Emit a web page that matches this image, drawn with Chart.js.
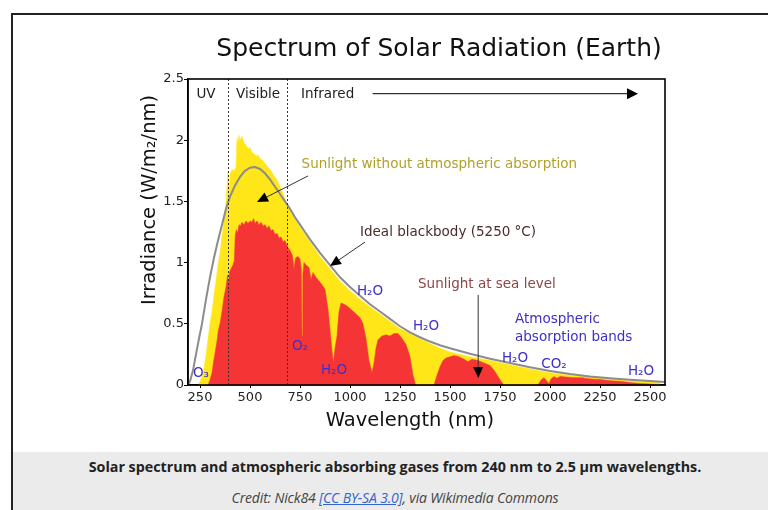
<!DOCTYPE html>
<html><head><meta charset="utf-8">
<script src="https://cdn.jsdelivr.net/npm/chart.js@4.4.1/dist/chart.umd.min.js"></script>
<style>
html,body{margin:0;padding:0;background:#fff;width:768px;height:510px;overflow:hidden;}
#frame{position:absolute;left:11px;top:13px;width:800px;height:520px;border-left:2px solid #222;border-top:2px solid #222;}
#wrap{position:absolute;left:0;top:0;width:768px;height:452px;}
#cap{position:absolute;left:13px;top:452px;width:800px;height:70px;background:#ebebeb;font-family:"Open Sans",sans-serif;}
#cap .t{position:absolute;left:0;width:764px;top:5px;text-align:center;font-weight:bold;font-size:14.3px;color:#222;}
#cap .c{position:absolute;left:0;width:764px;top:36px;text-align:center;font-style:italic;font-size:14px;letter-spacing:-0.15px;color:#444;}
#cap a{color:#3366cc;text-decoration:underline;}
</style></head>
<body>
<div id="frame"></div>
<div id="wrap"><canvas id="c" width="768" height="452"></canvas></div>
<div id="cap">
<div class="t">Solar spectrum and atmospheric absorbing gases from 240 nm to 2.5 μm wavelengths.</div>
<div class="c">Credit: Nick84 <a>[CC BY-SA 3.0]</a>, via Wikimedia Commons</div>
</div>
<script>
// ---- data ----
const blackbodyNm  = [190,200,215,230,245,260,280,300,320,340,360,380,400,425,450,475,500,525,550,575,600,625,650,675,700,725,750,775,800,850,900,950,1000,1050,1100,1150,1200,1250,1300,1350,1400,1450,1500,1600,1700,1800,1900,2000,2100,2200,2300,2400,2500,2575];
const blackbodyVal = [0.0,0.03,0.12,0.25,0.38,0.5,0.7,0.88,1.04,1.18,1.31,1.44,1.54,1.63,1.7,1.75,1.775,1.78,1.765,1.73,1.68,1.62,1.56,1.5,1.44,1.37,1.31,1.25,1.19,1.08,0.98,0.88,0.8,0.73,0.66,0.6,0.54,0.48,0.43,0.39,0.355,0.325,0.3,0.255,0.215,0.18,0.145,0.115,0.09,0.07,0.055,0.042,0.032,0.025];

const topAtmNm  = [242,250,260,270,280,290,300,310,320,330,340,350,360,370,380,385,390,395,400,410,420,430,435,440,445,450,460,470,480,490,500,510,520,530,540,550,560,570,580,590,600,620,640,660,680,700,720,750,800,850,900,950,1000,1050,1100,1150,1200,1250,1300,1350,1400,1450,1500,1600,1700,1800,1900,2000,2100,2200,2300,2400,2500,2550];
const topAtmVal = [0,0.03,0.07,0.14,0.24,0.38,0.5,0.6,0.74,0.85,0.98,1.08,1.22,1.35,1.5,1.62,1.74,1.6,1.72,1.76,1.75,1.78,2.02,1.98,2.04,2.0,2.03,1.98,1.96,1.93,1.94,1.9,1.89,1.87,1.88,1.85,1.84,1.82,1.8,1.78,1.76,1.71,1.66,1.58,1.5,1.43,1.37,1.29,1.17,1.05,0.95,0.85,0.77,0.7,0.64,0.58,0.52,0.46,0.42,0.38,0.34,0.3,0.27,0.23,0.2,0.165,0.13,0.1,0.08,0.065,0.05,0.037,0.027,0.023];

const seaLevelNm  = [290,300,310,317,325,335,342,350,360,370,380,388,393,397,405,415,422,426,432,438,445,452,460,470,480,490,500,510,518,525,535,545,555,565,575,585,595,605,615,625,635,645,655,665,675,685,688,692,700,712,720,728,740,750,756,760,764,770,780,795,805,815,830,845,860,875,890,900,910,917,925,935,945,955,970,990,1010,1030,1050,1065,1080,1095,1110,1120,1130,1140,1160,1180,1200,1220,1240,1260,1280,1300,1315,1328,1420,1435,1450,1465,1480,1500,1520,1545,1570,1590,1610,1640,1670,1700,1720,1740,1755,1770,1940,1955,1970,1985,1995,2005,2020,2035,2050,2080,2120,2160,2200,2250,2300,2350,2400,2450,2500,2540];
const seaLevelVal = [0,0.04,0.1,0.18,0.26,0.36,0.45,0.5,0.6,0.72,0.8,0.9,0.82,0.92,0.95,0.98,1.02,1.22,1.27,1.24,1.31,1.3,1.33,1.31,1.34,1.32,1.34,1.33,1.36,1.32,1.34,1.31,1.33,1.3,1.31,1.28,1.3,1.26,1.27,1.23,1.24,1.2,1.21,1.17,1.18,1.14,1.0,1.12,1.1,1.06,0.95,1.04,1.05,1.03,0.95,0.4,0.9,1.0,0.98,0.96,0.86,0.92,0.88,0.85,0.82,0.78,0.62,0.45,0.28,0.18,0.3,0.4,0.6,0.67,0.66,0.64,0.61,0.58,0.55,0.5,0.38,0.2,0.1,0.18,0.3,0.37,0.4,0.41,0.4,0.42,0.42,0.38,0.33,0.23,0.08,0,0,0.08,0.15,0.2,0.22,0.23,0.24,0.23,0.21,0.19,0.21,0.2,0.18,0.16,0.12,0.07,0.03,0,0,0.04,0.06,0.03,0.01,0.05,0.07,0.055,0.07,0.065,0.06,0.06,0.05,0.045,0.035,0.03,0.02,0.012,0.008,0];

const xTicks = [250,500,750,1000,1250,1500,1750,2000,2250,2500];
const xTickLabels = ['250','500','750','1000','1250','1500','1750','2000','2250','2500'];
const yTicks = [0,0.5,1,1.5,2,2.5];
const yTickLabels = ['0','0.5','1','1.5','2','2.5'];
const visibleBounds = [388, 687];

const pts = (xs, ys) => xs.map((x, i) => ({x: x, y: ys[i]}));
const FONT = '"DejaVu Sans", sans-serif';

function arrow(ctx, x1, y1, x2, y2, lineColor, len, half) {
  const a = Math.atan2(y2 - y1, x2 - x1);
  const bx = x2 - len * Math.cos(a), by = y2 - len * Math.sin(a);
  ctx.save();
  ctx.strokeStyle = lineColor; ctx.lineWidth = 1;
  ctx.beginPath(); ctx.moveTo(x1, y1); ctx.lineTo(bx, by); ctx.stroke();
  ctx.fillStyle = '#000';
  ctx.beginPath();
  ctx.moveTo(x2, y2);
  ctx.lineTo(bx + half * Math.sin(a), by - half * Math.cos(a));
  ctx.lineTo(bx - half * Math.sin(a), by + half * Math.cos(a));
  ctx.closePath(); ctx.fill();
  ctx.restore();
}

const annot = {
  id: 'annot',
  afterDatasetsDraw(chart) {
    const ctx = chart.ctx, ca = chart.chartArea;
    const X = v => chart.scales.x.getPixelForValue(v);
    const Y = v => chart.scales.y.getPixelForValue(v);
    ctx.save();
    ctx.strokeStyle = '#333'; ctx.lineWidth = 1; ctx.setLineDash([2, 2]);
    visibleBounds.forEach(b => {
      const px = Math.round(X(b)) + 0.5;
      ctx.beginPath(); ctx.moveTo(px, ca.top); ctx.lineTo(px, ca.bottom); ctx.stroke();
    });
    ctx.setLineDash([]);
    ctx.strokeStyle = '#000'; ctx.lineWidth = 1.6;
    ctx.strokeRect(ca.left, ca.top, ca.right - ca.left, ca.bottom - ca.top);

    ctx.textBaseline = 'middle';
    ctx.font = '13.5px ' + FONT;
    ctx.fillStyle = '#222';
    ctx.textAlign = 'center';
    ctx.fillText('UV', X(280), Y(2.37));
    ctx.fillText('Visible', X(540), Y(2.37));
    ctx.textAlign = 'left';
    ctx.fillText('Infrared', X(755), Y(2.37));
    arrow(ctx, X(1113), Y(2.38), X(2440), Y(2.38), '#000', 11, 5.5);

    ctx.fillStyle = '#b3a128';
    ctx.fillText('Sunlight without atmospheric absorption', X(758), Y(1.80));
    arrow(ctx, X(790), Y(1.708), X(535), Y(1.495), '#333', 11, 5);

    ctx.fillStyle = '#4b2c2c';
    ctx.fillText('Ideal blackbody (5250 °C)', X(1050), Y(1.245));
    arrow(ctx, X(1075), Y(1.168), X(900), Y(0.972), '#333', 11, 5);

    ctx.fillStyle = '#8c4646';
    ctx.fillText('Sunlight at sea level', X(1340), Y(0.825));
    arrow(ctx, X(1641), Y(0.735), X(1641), Y(0.057), '#333', 11, 5);

    ctx.fillStyle = '#3f2fc8';
    ctx.fillText('Atmospheric', X(1825), Y(0.535));
    ctx.fillText('absorption bands', X(1825), Y(0.385));

    ctx.textAlign = 'center';
    const gases = [
      ['H₂O', 1100, 0.76], ['H₂O', 1380, 0.475], ['H₂O', 920, 0.116],
      ['H₂O', 1825, 0.214], ['H₂O', 2455, 0.107], ['CO₂', 2020, 0.165],
      ['O₂', 750, 0.312], ['O₃', 255, 0.091]
    ];
    gases.forEach(g => ctx.fillText(g[0], X(g[1]), Y(g[2])));

    ctx.fillStyle = '#111';
    ctx.font = '25px ' + FONT;
    ctx.fillText('Spectrum of Solar Radiation (Earth)', 439, 49);
    ctx.font = '19.5px ' + FONT;
    ctx.fillText('Wavelength (nm)', 410, 421);
    ctx.save();
    ctx.translate(150, 200); ctx.rotate(-Math.PI / 2);
    ctx.fillText('Irradiance (W/m₂/nm)', 0, 0);
    ctx.restore();
    ctx.restore();
  }
};

new Chart(document.getElementById('c'), {
  type: 'line',
  data: {
    datasets: [
      { label: 'Ideal blackbody (5250 °C)', data: pts(blackbodyNm, blackbodyVal),
        borderColor: '#8c8c8c', borderWidth: 2, pointRadius: 0, fill: false, tension: 0 },
      { label: 'Sunlight at sea level', data: pts(seaLevelNm, seaLevelVal),
        borderColor: '#f53535', backgroundColor: '#f53535', borderWidth: 0.5, pointRadius: 0, fill: 'origin', tension: 0 },
      { label: 'Sunlight without atmospheric absorption', data: pts(topAtmNm, topAtmVal),
        borderColor: '#ffe619', backgroundColor: '#ffe619', borderWidth: 0.5, pointRadius: 0, fill: 'origin', tension: 0 }
    ]
  },
  options: {
    responsive: false, animation: false, devicePixelRatio: 1,
    layout: { padding: { left: 0, top: 79, right: 103, bottom: 0 } },
    plugins: { legend: { display: false }, tooltip: { enabled: false } },
    scales: {
      x: {
        type: 'linear', min: 190, max: 2575,
        afterFit: s => { s.height = 67; },
        afterBuildTicks: s => { s.ticks = xTicks.map(v => ({ value: v })); },
        ticks: { font: { family: 'DejaVu Sans', size: 13 }, color: '#222', maxRotation: 0, autoSkip: false, padding: 2,
                 callback: (v, i) => xTickLabels[i] },
        grid: { drawOnChartArea: false, drawTicks: true, tickLength: 3, color: '#000' },
        border: { display: true, color: '#000', width: 1.5 }
      },
      y: {
        min: 0, max: 2.5,
        afterFit: s => { s.width = 188; },
        afterBuildTicks: s => { s.ticks = yTicks.map(v => ({ value: v })); },
        ticks: { font: { family: 'DejaVu Sans', size: 13 }, color: '#222', padding: 0,
                 callback: (v, i) => yTickLabels[i] },
        grid: { drawOnChartArea: false, drawTicks: true, tickLength: 4, color: '#000' },
        border: { display: true, color: '#000', width: 1.5 }
      }
    }
  },
  plugins: [annot]
});
</script>
</body></html>
